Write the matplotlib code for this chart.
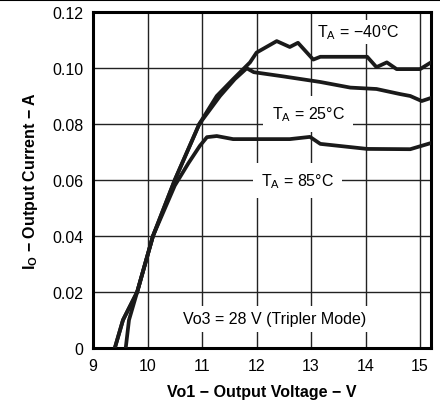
import matplotlib
matplotlib.use("Agg")
import matplotlib.pyplot as plt
from matplotlib.lines import Line2D

plt.rcParams['font.family'] = ['Liberation Sans', 'DejaVu Sans']
plt.rcParams['mathtext.default'] = 'regular'

# data (Vo1 in V, Io in A)
v_m40 = [9.40, 9.55, 9.81, 10.1, 10.5, 10.95, 11.27, 11.57, 11.88, 12.0, 12.37,
         12.61, 12.76, 13.04, 13.17, 14.03, 14.2, 14.39, 14.57, 15.0, 15.2]
i_m40 = [0, 0.010, 0.020, 0.040, 0.060, 0.080, 0.090, 0.096, 0.102, 0.1055, 0.1096,
         0.1075, 0.109, 0.103, 0.104, 0.104, 0.1003, 0.102, 0.0996, 0.0996, 0.102]

v_25 = [9.40, 9.55, 9.81, 10.1, 10.5, 10.95, 11.33, 11.6, 11.82, 11.95, 12.49,
        13.17, 13.72, 14.2, 14.63, 14.82, 15.03, 15.2]
i_25 = [0, 0.010, 0.020, 0.040, 0.060, 0.080, 0.090, 0.096, 0.0999, 0.0985, 0.097,
        0.095, 0.093, 0.0925, 0.0907, 0.090, 0.0882, 0.0893]

v_85 = [9.60, 9.66, 9.81, 10.1, 10.5, 10.75, 10.96, 11.09, 11.27, 11.57, 12.61,
        12.98, 13.17, 14.03, 14.82, 15.2]
i_85 = [0, 0.010, 0.020, 0.040, 0.058, 0.066, 0.0722, 0.0753, 0.0757, 0.0746, 0.0746,
        0.0754, 0.0729, 0.0711, 0.071, 0.0732]

xticks = [9, 10, 11, 12, 13, 14, 15]
yticks = [0, 0.02, 0.04, 0.06, 0.08, 0.10, 0.12]
ylabels = ['0', '0.02', '0.04', '0.06', '0.08', '0.10', '0.12']

fig = plt.figure(figsize=(4.4, 4.02), dpi=100)
ax = fig.add_axes([0.2114, 0.1318, 0.7681, 0.8359])

for v, i in [(v_m40, i_m40), (v_25, i_25), (v_85, i_85)]:
    ax.plot(v, i, color='#1a1a1a', lw=2.7, solid_joinstyle='round', zorder=3)

ax.set_xlim(9, 15.2)
ax.set_ylim(0, 0.12)
ax.set_xticks(xticks)
ax.set_yticks(yticks)
ax.set_yticklabels(ylabels)
ax.grid(True, color='#222222', lw=1.0)
ax.tick_params(length=0, labelsize=11.5, pad=7)
for s in ax.spines.values():
    s.set_linewidth(2.2)

fs = 11.5
ax.text(13.86, 0.1128, 'T$_A$ = \u221240\u00b0C', fontsize=fs, ha='center', va='center',
        bbox=dict(facecolor='white', edgecolor='none', pad=2), zorder=4)
ax.text(12.95, 0.0836, 'T$_A$ = 25\u00b0C', fontsize=fs, ha='center', va='center',
        bbox=dict(facecolor='white', edgecolor='none', pad=6), zorder=4)
ax.text(12.75, 0.0597, 'T$_A$ = 85\u00b0C', fontsize=fs, ha='center', va='center',
        bbox=dict(facecolor='white', edgecolor='none', pad=6), zorder=4)
ax.text(12.34, 0.0104, 'Vo3 = 28 V (Tripler Mode)', fontsize=fs, ha='center', va='center',
        bbox=dict(facecolor='white', edgecolor='none', pad=4), zorder=4)

ax.set_xlabel('Vo1 \u2212 Output Voltage \u2212 V', fontsize=fs, fontweight='bold', labelpad=8)
ax.set_ylabel('I$_O$ \u2212 Output Current \u2212 A', fontsize=fs, fontweight='bold', labelpad=9)

# header rule at the top of the page
fig.add_artist(Line2D([0, 1], [0.997, 0.997], color='black', lw=1.5, transform=fig.transFigure))

fig.savefig('out.png', dpi=100)
